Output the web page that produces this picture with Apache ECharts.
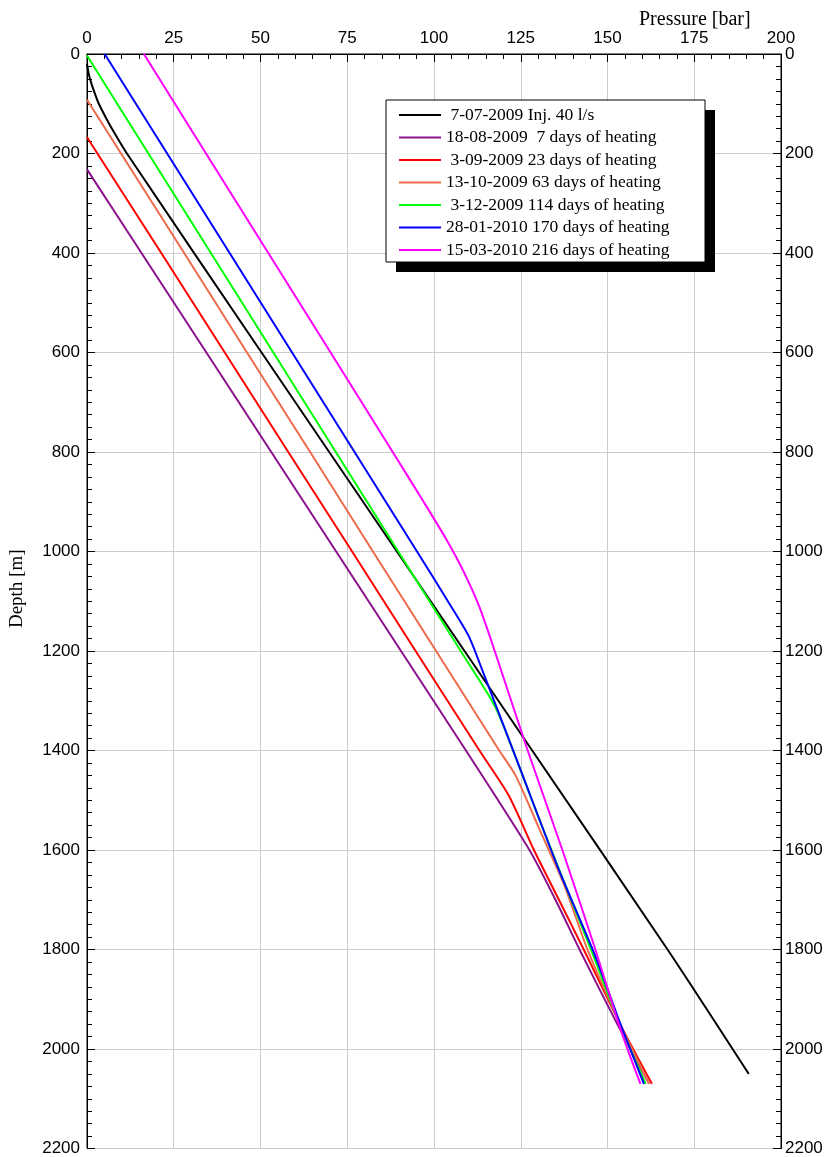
<!DOCTYPE html>
<html>
<head>
<meta charset="utf-8">
<script src="https://cdn.jsdelivr.net/npm/echarts@6/dist/echarts.min.js"></script>
<style>
  html, body { margin: 0; padding: 0; background: #fff; }
  #chart { width: 834px; height: 1157px; }
</style>
</head>
<body>
<div id="chart"></div>
<script>
// [pressure bar, depth m] pairs
const inj40 = [[0,20],[0.5,40],[1.3,60],[2.3,80],[3.4,100],[5.6,130],[8.0,160],[11.5,200],[50.3,600],[89.3,1000],[128.3,1400],[167.3,1800],[190.7,2050]];
const heat7 = [[0,232],[15.7,400],[34.4,600],[53.1,800],[71.8,1000],[90.5,1200],[109.2,1400],[127.5,1600],[135,1700],[142.3,1805],[153.2,1955],[162,2070]];
const heat23 = [[0,167],[3.0,200],[21.4,400],[39.7,600],[58.0,800],[76.4,1000],[94.7,1200],[113.1,1400],[121.5,1490],[128.8,1600],[136,1700],[143.5,1805],[154,1955],[162.8,2070]];
const heat63 = [[0,92],[9.8,200],[28,400],[46.1,600],[64.3,800],[82.4,1000],[100.6,1200],[118.8,1400],[123.5,1450],[130.5,1560],[137.5,1670],[144.5,1805],[154,1955],[162,2070]];
const heat114 = [[0,3],[17.7,200],[35.7,400],[53.7,600],[71.7,800],[89.7,1000],[107.7,1200],[116.7,1300],[120,1350],[131,1550],[145.5,1805],[153.8,1955],[161,2070]];
const heat170 = [[5.1,0],[23.1,200],[41.1,400],[59.1,600],[77.1,800],[95.1,1000],[104,1100],[110,1170],[114,1240],[125,1440],[136,1640],[146,1805],[154,1955],[160.5,2070]];
const heat216 = [[16.4,0],[34.3,200],[70.2,600],[88.1,800],[97,900],[103.5,975],[108.5,1040],[113,1110],[117.5,1200],[127,1400],[137,1600],[146.5,1800],[153.5,1955],[159.5,2070]];

const seriesNames = [
  ' 7-07-2009 Inj. 40 l/s',
  '18-08-2009  7 days of heating',
  ' 3-09-2009 23 days of heating',
  '13-10-2009 63 days of heating',
  ' 3-12-2009 114 days of heating',
  '28-01-2010 170 days of heating',
  '15-03-2010 216 days of heating'
];
const seriesData = [inj40, heat7, heat23, heat63, heat114, heat170, heat216];
const colors = ['#000000', '#8b108b', '#ff0000', '#ee6a4c', '#00ff00', '#0000ff', '#ff00ff'];

const sans = "'Liberation Sans', Arial, sans-serif";
const serif = "'Liberation Serif', 'Times New Roman', serif";

const chart = echarts.init(document.getElementById('chart'));

const yAxisCommon = {
  type: 'value',
  inverse: true,
  min: 0,
  max: 2200,
  interval: 200,
  axisLine: { show: true, lineStyle: { color: '#000', width: 1 } },
  axisTick: { show: true, inside: true, length: 8, lineStyle: { color: '#000' } },
  minorTick: { show: true, splitNumber: 8, length: 5, lineStyle: { color: '#000' } },
  axisLabel: { color: '#000', fontSize: 17, fontFamily: sans, formatter: v => String(v) }
};

let option = {
  animation: false,
  color: colors,
  grid: {
    left: 85,
    right: 53,
    top: 54,
    bottom: 7,
    show: true,
    borderColor: '#000',
    borderWidth: 1,
    backgroundColor: 'transparent'
  },
  title: {
    text: 'Pressure [bar]',
    left: 634,
    top: 5,
    textStyle: { fontFamily: serif, fontSize: 20, fontWeight: 'normal', color: '#000' }
  },
  graphic: [
    { type: 'rect', z: 1, shape: { x: 396, y: 110, width: 319, height: 162 }, style: { fill: '#000' } },
    { type: 'rect', z: 2, shape: { x: 386, y: 100, width: 319, height: 162 }, style: { fill: '#fff', stroke: '#000', lineWidth: 1 } }
  ],
  legend: {
    orient: 'vertical',
    left: 399,
    top: 106,
    z: 10,
    padding: 0,
    icon: 'rect',
    itemWidth: 42,
    itemHeight: 2,
    itemGap: 4.5,
    textStyle: { fontFamily: serif, fontSize: 17.5, color: '#000', lineHeight: 18 },
    data: seriesNames
  },
  xAxis: {
    type: 'value',
    position: 'top',
    min: 0,
    max: 200,
    interval: 25,
    axisLine: { show: true, lineStyle: { color: '#000', width: 1 } },
    axisTick: { show: true, inside: true, length: 8, lineStyle: { color: '#000' } },
    minorTick: { show: true, splitNumber: 5, length: 5, lineStyle: { color: '#000' } },
    axisLabel: { color: '#000', fontSize: 17, fontFamily: sans, margin: 7 },
    splitLine: { show: true, lineStyle: { color: '#cccccc', width: 1 } }
  },
  yAxis: [
    Object.assign({}, yAxisCommon, {
      position: 'left',
      name: 'Depth [m]',
      nameLocation: 'middle',
      nameGap: 60,
      nameTextStyle: { fontFamily: serif, fontSize: 19, color: '#000', padding: [0, 0, 0, 25] },
      axisLabel: Object.assign({}, yAxisCommon.axisLabel, { margin: 7 }),
      splitLine: { show: true, lineStyle: { color: '#cccccc', width: 1 } }
    }),
    Object.assign({}, yAxisCommon, {
      position: 'right',
      axisLabel: Object.assign({}, yAxisCommon.axisLabel, { margin: 4 }),
      splitLine: { show: false }
    })
  ],
  series: seriesNames.map((name, i) => ({
    name: name,
    type: 'line',
    data: seriesData[i],
    symbol: 'none',
    smooth: 0.25,
    lineStyle: { width: 2, color: colors[i] },
    itemStyle: { color: colors[i] },
    z: 3 + i
  }))
};

chart.setOption(option);
</script>
</body>
</html>
